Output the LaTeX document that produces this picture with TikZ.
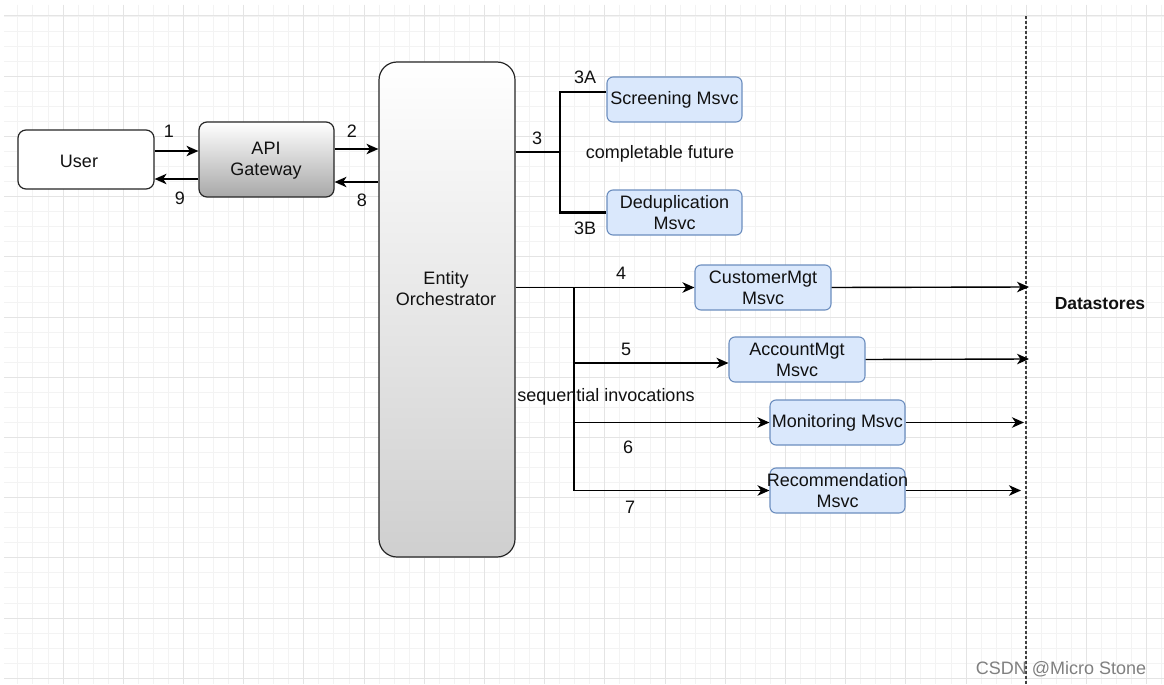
\documentclass[tikz,border=0pt]{standalone}
\usepackage{fontspec}
\setmainfont{Liberation Sans}
\usetikzlibrary{arrows.meta}
\definecolor{msfill}{HTML}{DAE8FC}
\definecolor{msdraw}{HTML}{6C8EBF}
\definecolor{gmin}{HTML}{F3F3F3}
\definecolor{gmaj}{HTML}{E4E4E4}
\definecolor{txt}{HTML}{111111}
\definecolor{gwB}{HTML}{A8A8A8}
\definecolor{gwO}{HTML}{CFCFCF}
\begin{document}
\begin{tikzpicture}[x=1pt,y=-1pt,
  every node/.style={font=\fontsize{18}{21}\selectfont, text=txt},
  lbl/.style={inner sep=0pt},
  box/.style={draw=black!85, line width=1.2pt, rounded corners=8pt, inner sep=0pt},
  msvc/.style={draw=msdraw, fill=msfill, line width=1.1pt, rounded corners=6pt, minimum width=135pt, minimum height=45pt, inner sep=0pt, align=center},
  arr/.style={line width=1.4pt, -{Stealth[length=12pt,width=10.5pt,inset=3.5pt]}},
  br/.style={line width=2.8pt, line join=miter},
]
\useasboundingbox (0,0) rectangle (1164,685);
\fill[white] (0,0) rectangle (1164,685);
\begin{scope}
\clip (4,5) rectangle (1164,684);
\foreach \i in {-4,...,73}{\pgfmathsetmacro\xx{63+15.05*\i}\draw[gmin, line width=0.9pt] (\xx,5) -- (\xx,684);}
\foreach \j in {-1,...,44}{\pgfmathsetmacro\yy{16+15.05*\j}\draw[gmin, line width=0.9pt] (4,\yy) -- (1164,\yy);}
\foreach \i in {-1,...,18}{\pgfmathsetmacro\xx{63+60.2*\i}\draw[gmaj, line width=1pt] (\xx,5) -- (\xx,684);}
\foreach \j in {0,...,11}{\pgfmathsetmacro\yy{16+60.2*\j}\draw[gmaj, line width=1pt] (4,\yy) -- (1164,\yy);}
\end{scope}

% dashed boundary
\coordinate (dt) at (1026,16);
\coordinate (db) at (1026,685);
\draw[dash pattern=on 3pt off 2pt, line width=1.2pt, black!75] (dt) -- (db);

% main boxes
\node[box, fill=white, minimum width=136pt, minimum height=59pt] (user) at (86,159.5) {};
\node[lbl] (userT) at (79,161) {User};
\node[box, top color=white, bottom color=gwB, minimum width=135pt, minimum height=75pt] (api) at (266.5,159.5) {};
\node[lbl, align=center] (apiT) at (266,161) {API\\Gateway};
\node[box, rounded corners=18pt, top color=white, bottom color=gwO, minimum width=136pt, minimum height=495pt] (orch) at (447,309.5) {};
\node[lbl, align=center] (orchT) at (446,289) {Entity\\Orchestrator};

% microservices
\node[msvc] (scr) at (674.5,99.5) {Screening Msvc};
\node[msvc] (dedup) at (674.5,212.5) {Deduplication\\Msvc};
\node[msvc, minimum width=136pt] (cust) at (763,287.5) {CustomerMgt\\Msvc};
\node[msvc, minimum width=136pt] (acct) at (797,359.5) {AccountMgt\\Msvc};
\node[msvc] (mon) at (837.5,422.5) {Monitoring Msvc};
\node[msvc] (rec) at (837.5,490.5) {};
\node[lbl, align=center] (recT) at (837.5,491) {Recommendation\\Msvc};

% user <-> gateway <-> orchestrator
\coordinate (p1) at ([yshift=8.5pt]user.east);
\draw[arr] (p1) -- (p1 -| api.west);
\coordinate (p9) at ([yshift=-19.5pt]api.west);
\draw[arr] (p9) -- (p9 -| user.east);
\coordinate (p2) at ([yshift=10.5pt]api.east);
\draw[arr] (p2) -- (p2 -| orch.west);
\coordinate (p8) at ([yshift=-22.5pt]api.east);
\draw[arr] (p8 -| orch.west) -- (p8);

% completable future bracket
\coordinate (j3) at (560,152);
\draw[br] (j3 -| orch.east) -- (j3);
\coordinate (a3) at ([yshift=7.5pt]scr.west);
\draw[br] (a3) -- (a3 -| j3) -- (dedup.west -| j3) -- (dedup.west);

% sequential invocations
\coordinate (j4) at (574,287.5);
\draw[arr] (cust.west -| orch.east) -- (cust.west);
\draw[line width=1.3pt] (j4) -- (j4 |- rec.west);
\coordinate (p5) at ([yshift=-3.5pt]acct.west);
\draw[arr] (p5 -| j4) -- (p5);
\draw[arr] (mon.west -| j4) -- (mon.west);
\draw[arr] (rec.west -| j4) -- (rec.west);

% to datastores
\coordinate (e4) at (1029,287);
\coordinate (e5) at (1029,359);
\coordinate (e6) at (1024,422.5);
\coordinate (e7) at (1021,490.5);
\draw[arr] (cust.east) -- (e4);
\draw[arr] (acct.east) -- (e5);
\draw[arr] (mon.east) -- (e6);
\draw[arr] (rec.east) -- (e7);

% labels
\node[lbl] (n1) at (169,131) {1};
\node[lbl] (n9) at (180,198) {9};
\node[lbl] (n2) at (352,131) {2};
\node[lbl] (n8) at (362,200) {8};
\node[lbl] (n3) at (537,138) {3};
\node[lbl] (n3a) at (585,77) {3A};
\node[lbl] (n3b) at (585,228) {3B};
\node[lbl] (n4) at (621,273) {4};
\node[lbl] (n5) at (626,349) {5};
\node[lbl] (n6) at (628,447) {6};
\node[lbl] (n7) at (630,507) {7};
\node[lbl] (cf) at (660,154) {completable future};
\node[lbl] (si) at (606,397) {sequential invocations};
\node[lbl, font=\bfseries\fontsize{17.5}{21}\selectfont] (ds) at (1100,304) {Datastores};
\node[lbl, text=black!50, font=\fontsize{18}{21}\selectfont] (csdn) at (1061,669) {CSDN @Micro Stone};
\end{tikzpicture}
\end{document}
